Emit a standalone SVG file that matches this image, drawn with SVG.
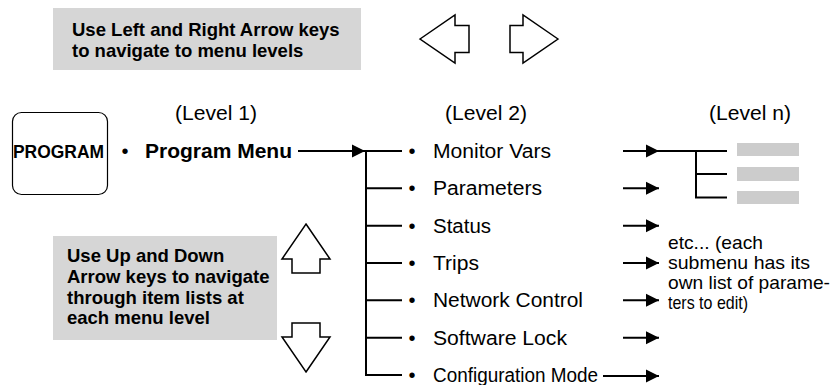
<svg xmlns="http://www.w3.org/2000/svg" width="836" height="385" viewBox="0 0 836 385">
<style>
  text { font-family: "Liberation Sans", Arial, sans-serif; fill: #000; }
  .b { font-weight: bold; }
  .note { font-size: 18.5px; font-weight: bold; }
  .lvl { font-size: 20px; }
  .item { font-size: 20px; }
  .etc { font-size: 19px; }
  .box { fill: #d6d6d6; stroke: none; }
  .bar { fill: #cccccc; stroke: none; }
  .key { fill: #fff; stroke: #000; stroke-width: 1.5; stroke-linejoin: miter; }
  .conn { fill: none; stroke: #000; stroke-width: 2; }
</style>
<defs>
  <marker id="ah" markerUnits="userSpaceOnUse" markerWidth="14" markerHeight="14" viewBox="0 0 14 14" refX="13" refY="7" orient="auto">
    <path d="M0,0.5 L13,7 L0,13.5 Z" fill="#000"/>
  </marker>
</defs>

<g id="note-left-right">
  <rect class="box" x="53" y="8" width="308" height="62"/>
  <text class="note" x="72" y="36">Use Left and Right Arrow keys</text>
  <text class="note" x="72" y="57">to navigate to menu levels</text>
</g>

<g id="left-arrow-key">
  <path class="key" d="M420,39 L455,15 L455,25.5 L469,25.5 L469,52.5 L455,52.5 L455,63 Z"/>
</g>
<g id="right-arrow-key">
  <path class="key" d="M558,39 L523,15 L523,25.5 L510,25.5 L510,52.5 L523,52.5 L523,63 Z"/>
</g>

<g id="level-labels">
  <text class="lvl" x="175" y="120" textLength="82" lengthAdjust="spacingAndGlyphs">(Level 1)</text>
  <text class="lvl" x="445" y="120" textLength="82" lengthAdjust="spacingAndGlyphs">(Level 2)</text>
  <text class="lvl" x="709" y="120" textLength="82" lengthAdjust="spacingAndGlyphs">(Level n)</text>
</g>

<g id="program-key">
  <rect x="12.5" y="112.5" width="95" height="82" rx="9" ry="9" fill="#fff" stroke="#000" stroke-width="1.2"/>
  <text class="b" x="13" y="158" font-size="17.5" textLength="91" lengthAdjust="spacingAndGlyphs">PROGRAM</text>
</g>

<g id="program-menu">
  <text class="item" x="125" y="158" text-anchor="middle">•</text>
  <text class="b" x="145" y="158" font-size="20" textLength="147" lengthAdjust="spacingAndGlyphs">Program Menu</text>
</g>

<g id="connectors">
  <line class="conn" x1="298" y1="151" x2="365" y2="151" marker-end="url(#ah)"/>
  <line class="conn" x1="366" y1="150" x2="366" y2="376"/>
  <line class="conn" x1="365" y1="151" x2="402" y2="151"/>
  <line class="conn" x1="365" y1="188.3" x2="402" y2="188.3"/>
  <line class="conn" x1="365" y1="225.7" x2="402" y2="225.7"/>
  <line class="conn" x1="365" y1="263" x2="402" y2="263"/>
  <line class="conn" x1="365" y1="300.3" x2="402" y2="300.3"/>
  <line class="conn" x1="365" y1="337.7" x2="402" y2="337.7"/>
  <line class="conn" x1="365" y1="375" x2="402" y2="375"/>

  <line class="conn" x1="623" y1="151" x2="659" y2="151" marker-end="url(#ah)"/>
  <line class="conn" x1="623" y1="188.3" x2="659" y2="188.3" marker-end="url(#ah)"/>
  <line class="conn" x1="623" y1="225.7" x2="659" y2="225.7" marker-end="url(#ah)"/>
  <line class="conn" x1="623" y1="263" x2="659" y2="263" marker-end="url(#ah)"/>
  <line class="conn" x1="623" y1="300.3" x2="659" y2="300.3" marker-end="url(#ah)"/>
  <line class="conn" x1="623" y1="337.7" x2="659" y2="337.7" marker-end="url(#ah)"/>
  <line class="conn" x1="603" y1="376" x2="659" y2="376" marker-end="url(#ah)"/>

  <line class="conn" x1="658" y1="151" x2="727" y2="151"/>
  <line class="conn" x1="696" y1="150" x2="696" y2="198"/>
  <line class="conn" x1="695" y1="174" x2="727" y2="174"/>
  <line class="conn" x1="695" y1="197.5" x2="727" y2="197.5"/>
</g>

<g id="level2-items">
  <text class="item" x="412" y="158" text-anchor="middle">•</text>
  <text class="item" x="433" y="158" textLength="118" lengthAdjust="spacingAndGlyphs">Monitor Vars</text>
  <text class="item" x="412" y="195.3" text-anchor="middle">•</text>
  <text class="item" x="433" y="195.3" textLength="109" lengthAdjust="spacingAndGlyphs">Parameters</text>
  <text class="item" x="412" y="232.7" text-anchor="middle">•</text>
  <text class="item" x="433" y="232.7" textLength="58" lengthAdjust="spacingAndGlyphs">Status</text>
  <text class="item" x="412" y="270" text-anchor="middle">•</text>
  <text class="item" x="433" y="270" textLength="46" lengthAdjust="spacingAndGlyphs">Trips</text>
  <text class="item" x="412" y="307.3" text-anchor="middle">•</text>
  <text class="item" x="433" y="307.3" textLength="150" lengthAdjust="spacingAndGlyphs">Network Control</text>
  <text class="item" x="412" y="344.7" text-anchor="middle">•</text>
  <text class="item" x="433" y="344.7" textLength="134" lengthAdjust="spacingAndGlyphs">Software Lock</text>
  <text class="item" x="412" y="382" text-anchor="middle">•</text>
  <text class="item" x="433" y="382" textLength="165" lengthAdjust="spacingAndGlyphs">Configuration Mode</text>
</g>

<g id="level-n-items">
  <rect class="bar" x="737" y="143" width="62" height="13"/>
  <rect class="bar" x="737" y="167" width="62" height="14"/>
  <rect class="bar" x="737" y="191" width="62" height="13"/>
</g>

<g id="etc-note">
  <text class="etc" x="668" y="249" textLength="95" lengthAdjust="spacingAndGlyphs">etc... (each</text>
  <text class="etc" x="668" y="269" textLength="142" lengthAdjust="spacingAndGlyphs">submenu has its</text>
  <text class="etc" x="668" y="289" textLength="162" lengthAdjust="spacingAndGlyphs">own list of parame-</text>
  <text class="etc" x="668" y="308.5" textLength="80" lengthAdjust="spacingAndGlyphs">ters to edit)</text>
</g>

<g id="note-up-down">
  <rect class="box" x="53" y="236" width="224" height="104"/>
  <text class="note" x="67" y="262">Use Up and Down</text>
  <text class="note" x="67" y="283">Arrow keys to navigate</text>
  <text class="note" x="67" y="303.5">through item lists at</text>
  <text class="note" x="67" y="324">each menu level</text>
</g>

<g id="up-arrow-key">
  <path class="key" d="M306,224 L330,259 L320,259 L320,273 L292,273 L292,259 L282,259 Z"/>
</g>
<g id="down-arrow-key">
  <path class="key" d="M306,372 L330,337 L320,337 L320,323 L292,323 L292,337 L282,337 Z"/>
</g>
</svg>
